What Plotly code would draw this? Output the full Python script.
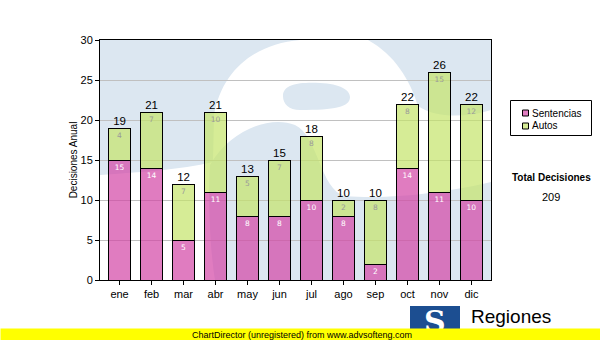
import plotly.graph_objects as go

# Monthly decisions, split by type
meses = ["ene", "feb", "mar", "abr", "may", "jun", "jul", "ago", "sep", "oct", "nov", "dic"]
sentencias = [15, 14, 5, 11, 8, 8, 10, 8, 2, 14, 11, 10]
autos = [4, 7, 7, 10, 5, 7, 8, 2, 8, 8, 15, 12]
totales = [s + a for s, a in zip(sentencias, autos)]
total_decisiones = sum(totales)

W, H = 600, 340
L, R, T, B = 100, 109, 40, 60
PW, PH = W - L - R, H - T - B

PINK = "rgba(211,69,165,0.7)"
GREEN = "rgba(196,228,105,0.7)"
WM_BLUE = "rgb(220,231,241)"


def px(x):
    return (x - L) / PW


def py(y):
    return (H - B - y) / PH


def path(cmds):
    """Build an SVG path in paper units from pixel-space commands."""
    out = []
    for c in cmds:
        op, pts = c[0], c[1:]
        if op == "Z":
            out.append("Z")
            continue
        out.append(op + " " + " ".join(f"{px(x):.4f},{py(y):.4f}" for x, y in pts))
    return " ".join(out)


# Large "S" watermark behind the plot: blue regions around a white letter
watermark = [
    [("M", (100, 40)), ("L", (300, 40)), ("C", (255, 44), (222, 70), (214, 115)),
     ("L", (213, 162)), ("C", (180, 170), (140, 172), (100, 175)), ("Z",)],
    [("M", (368, 40)), ("L", (491, 40)), ("L", (491, 110)),
     ("C", (465, 118), (435, 118), (418, 106)), ("C", (410, 80), (395, 55), (368, 40)), ("Z",)],
    [("M", (283, 96)), ("C", (283, 84), (300, 82), (320, 83)), ("C", (340, 84), (350, 90), (350, 97)),
     ("C", (350, 107), (335, 110), (300, 110)), ("C", (289, 110), (283, 104), (283, 96)), ("Z",)],
    [("M", (210, 165)), ("C", (230, 130), (270, 115), (295, 125)), ("C", (318, 135), (320, 190), (345, 196)),
     ("C", (390, 200), (450, 192), (491, 182)), ("L", (491, 280)), ("L", (215, 280)),
     ("C", (210, 250), (208, 200), (210, 165)), ("Z",)],
]

shapes = []
for p in watermark:
    shapes.append(dict(type="path", xref="paper", yref="paper", path=path(p),
                       fillcolor=WM_BLUE, line=dict(width=0), layer="below"))

# Legend box and swatches
shapes.append(dict(type="rect", xref="paper", yref="paper",
                   x0=px(510.5), x1=px(591.5), y0=py(100.5), y1=py(135.5),
                   line=dict(color="black", width=1), fillcolor="white"))
for (yy, col) in [(113, "rgb(224,125,192)"), (126, "rgb(214,236,150)")]:
    shapes.append(dict(type="rect", xref="paper", yref="paper",
                       x0=px(522.5), x1=px(528.5), y0=py(yy - 3), y1=py(yy + 3),
                       line=dict(color="black", width=1), fillcolor=col))

# Logo block at the bottom
shapes.append(dict(type="rect", xref="paper", yref="paper",
                   x0=px(410), x1=px(460), y0=py(306), y1=py(331),
                   line=dict(width=0), fillcolor="#1c4e91"))

fig = go.Figure()

fig.add_trace(go.Bar(
    x=meses, y=sentencias, name="Sentencias",
    marker=dict(color=PINK, line=dict(color="black", width=1)),
    text=sentencias, textposition="inside", insidetextanchor="end", textangle=0,
    insidetextfont=dict(family="DejaVu Sans", size=7.5, color="white"),
    hoverinfo="skip",
))
fig.add_trace(go.Bar(
    x=meses, y=autos, name="Autos",
    marker=dict(color=GREEN, line=dict(color="black", width=1)),
    text=autos, textposition="inside", insidetextanchor="end", textangle=0,
    insidetextfont=dict(family="DejaVu Sans", size=7.5, color="#9a9a9a"),
    hoverinfo="skip",
))
fig.add_trace(go.Scatter(
    x=meses, y=totales, mode="text", text=[str(t) for t in totales],
    textposition="top center",
    textfont=dict(family="Liberation Sans", size=11.5, color="black"),
    showlegend=False, hoverinfo="skip", cliponaxis=False,
))

annotations = [
    dict(xref="paper", yref="paper", x=px(530), y=py(113), xanchor="left", yanchor="middle",
         text="Sentencias", showarrow=False,
         font=dict(family="Liberation Sans", size=10, color="black")),
    dict(xref="paper", yref="paper", x=px(530), y=py(126), xanchor="left", yanchor="middle",
         text="Autos", showarrow=False,
         font=dict(family="Liberation Sans", size=10, color="black")),
    dict(xref="paper", yref="paper", x=px(551), y=py(177), xanchor="center", yanchor="middle",
         text="<b>Total Decisiones</b>", showarrow=False,
         font=dict(family="Liberation Sans", size=10, color="black")),
    dict(xref="paper", yref="paper", x=px(551), y=py(197), xanchor="center", yanchor="middle",
         text=str(total_decisiones), showarrow=False,
         font=dict(family="Liberation Sans", size=11, color="black")),
    dict(xref="paper", yref="paper", x=px(435), y=py(321), xanchor="center", yanchor="middle",
         text="<b>S</b>", showarrow=False,
         font=dict(family="DejaVu Serif", size=30, color="white")),
    dict(xref="paper", yref="paper", x=px(469), y=py(316), xanchor="left", yanchor="middle",
         text="Regiones", showarrow=False,
         font=dict(family="Liberation Sans", size=19, color="black")),
    # unregistered banner along the bottom edge
    dict(xref="paper", yref="paper", x=px(0), y=py(341), xanchor="left", yanchor="bottom",
         text=" ", showarrow=False, width=600, height=11, borderpad=0, bgcolor="#ffff00",
         font=dict(size=6)),
    dict(xref="paper", yref="paper", x=px(190), y=py(335), xanchor="left", yanchor="middle",
         text="ChartDirector (unregistered) from www.advsofteng.com", showarrow=False,
         font=dict(family="Liberation Sans", size=9, color="black")),
]

fig.update_layout(
    width=W, height=H, autosize=False,
    margin=dict(l=L, r=R, t=T, b=B, pad=0),
    paper_bgcolor="white", plot_bgcolor="white",
    barmode="stack", bargap=0.29,
    showlegend=False,
    shapes=shapes, annotations=annotations,
    font=dict(family="Liberation Sans", size=11, color="black"),
    xaxis=dict(
        showline=True, linecolor="black", linewidth=1, mirror=True,
        ticks="outside", ticklen=4, tickcolor="black", tickwidth=1,
        showgrid=False, tickfont=dict(family="Liberation Sans", size=11),
    ),
    yaxis=dict(
        range=[0, 30], dtick=5, showline=True, linecolor="black", linewidth=1, mirror=True,
        ticks="outside", ticklen=4, tickcolor="black", tickwidth=1,
        showgrid=True, gridcolor="#c0c0c0", gridwidth=1, zeroline=False,
        tickfont=dict(family="Liberation Sans", size=11),
        title=dict(text="Decisiones Anual", standoff=1,
                   font=dict(family="Liberation Sans", size=10)),
    ),
)

fig.write_html("out.html", config={"displayModeBar": False})
